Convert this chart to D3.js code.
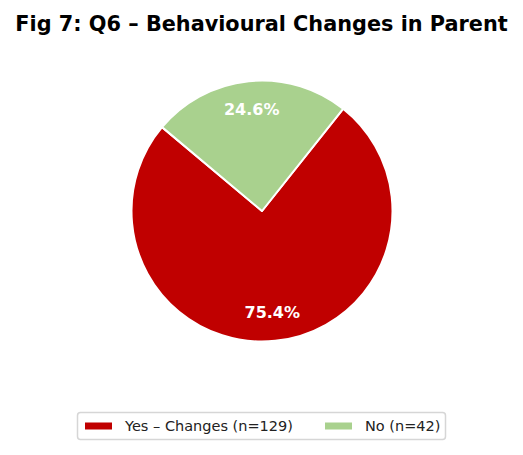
<!DOCTYPE html>
<html lang="en">
  <head>
    <meta charset="utf-8">
    <title>Fig 7: Q6</title>
    <script src="https://d3js.org/d3.v7.min.js"></script>
    <style type="text/css">
      body { margin: 0; background: #fff; }
      svg text { font-family: "DejaVu Sans", sans-serif; }
    </style>
  </head>
  <body>
    <div id="chart"></div>
    <script type="text/javascript">
      // data
      var labels = ["Yes \u2013 Changes (n=129)", "No (n=42)"];
      var counts = [129, 42];
      var colors = ["#c00000", "#a9d18e"];

      var width = 523, height = 455;
      var cx = 262, cy = 211, radius = 130.5;

      var svg = d3.select("#chart").append("svg")
        .attr("width", width).attr("height", height);

      svg.append("text")
        .attr("x", 261.5).attr("y", 31)
        .attr("text-anchor", "middle")
        .style("font-size", "20.8px").style("font-weight", "bold")
        .text("Fig 7: Q6 \u2013 Behavioural Changes in Parent");

      // matplotlib style: startangle 140, counter-clockwise
      var start = (90 - 140) * Math.PI / 180;
      var pie = d3.pie().sort(null).startAngle(start).endAngle(start - 2 * Math.PI);
      var arcs = pie(counts);
      var arc = d3.arc().innerRadius(0).outerRadius(radius);
      var labelArc = d3.arc().innerRadius(radius * 0.78).outerRadius(radius * 0.78);
      var total = d3.sum(counts);

      var g = svg.append("g").attr("transform", "translate(" + cx + "," + cy + ")");
      g.selectAll("path").data(arcs).enter().append("path")
        .attr("d", arc)
        .attr("fill", function (d, i) { return colors[i]; })
        .attr("stroke", "#fff").attr("stroke-width", 2)
        .attr("stroke-linejoin", "round");

      g.selectAll("text.pct").data(arcs).enter().append("text")
        .attr("class", "pct")
        .attr("transform", function (d) { return "translate(" + labelArc.centroid(d) + ")"; })
        .attr("text-anchor", "middle").attr("dy", "0.36em")
        .style("font-size", "16px").style("font-weight", "bold").style("fill", "#fff")
        .text(function (d) { return (100 * d.value / total).toFixed(1) + "%"; });

      // legend
      var leg = svg.append("g");
      leg.append("rect")
        .attr("x", 77.5).attr("y", 412.5).attr("width", 368).attr("height", 27)
        .attr("rx", 3).attr("fill", "#fff").attr("stroke", "#d6d6d6").attr("stroke-width", 1.5);
      var itemX = [85, 325];
      labels.forEach(function (l, i) {
        leg.append("rect")
          .attr("x", itemX[i]).attr("y", 422.5).attr("width", 27).attr("height", 7)
          .attr("fill", colors[i]);
        leg.append("text")
          .attr("x", itemX[i] + 40).attr("y", 426).attr("dy", "0.35em")
          .style("font-size", "14.5px").style("fill", "#222")
          .text(l);
      });
    </script>
  </body>
</html>
